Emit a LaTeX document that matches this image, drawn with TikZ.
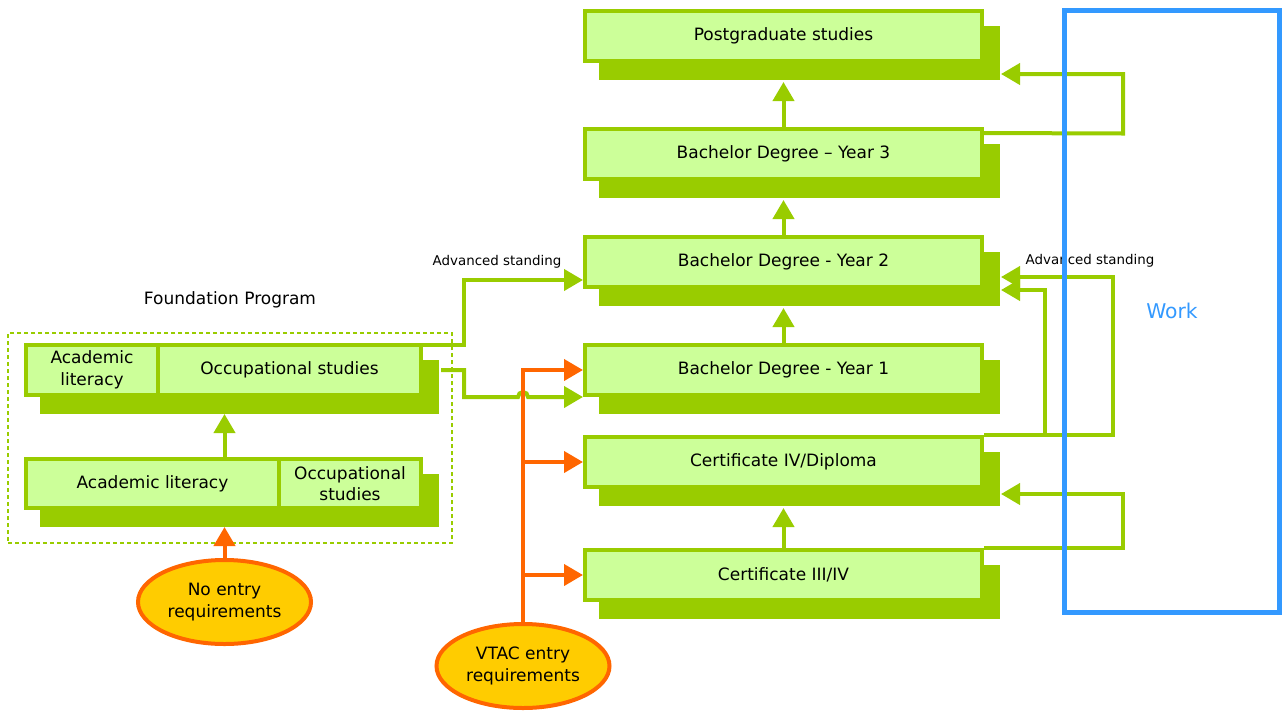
\documentclass[tikz,border=0pt]{standalone}
\usepackage{fontspec}
\setmainfont{DejaVu Sans}
\usetikzlibrary{arrows.meta,shapes.geometric,shadows}

\definecolor{leafGreen}{HTML}{99CC00}
\definecolor{paleGreen}{HTML}{CCFF99}
\definecolor{flameOrange}{HTML}{FF6600}
\definecolor{sunYellow}{HTML}{FFCC00}
\definecolor{workBlue}{HTML}{3399FF}

\begin{document}
\begin{tikzpicture}
[x=1pt,y=-1pt,
  font=\fontsize{17}{21.5}\selectfont,
  stageDecorate/.style={draw=leafGreen,fill=paleGreen,line width=4pt,%
    minimum width=397pt,minimum height=50pt,inner sep=0pt,align=center,%
    general shadow={fill=leafGreen,draw=leafGreen,line width=4pt,%
      shadow xshift=16pt,shadow yshift=-17pt}},
  cellDecorate/.style={stageDecorate,outer sep=0pt},
  entryDecorate/.style={ellipse,draw=flameOrange,fill=sunYellow,line width=4pt,%
    minimum width=173pt,minimum height=84pt,inner sep=0pt,align=center},
  frameDecorate/.style={draw=leafGreen,line width=2pt,dash pattern=on 4pt off 3pt,%
    minimum width=444pt,minimum height=210pt},
  workDecorate/.style={draw=workBlue,line width=5pt,text=workBlue,%
    minimum width=215pt,minimum height=602pt,font=\fontsize{20.3}{24}\selectfont},
  noteDecorate/.style={font=\fontsize{13.4}{16}\selectfont,inner sep=0pt},
  greenArrow/.style={draw=leafGreen,line width=4pt,-{Triangle[length=19pt,width=21pt]}},
  orangeArrow/.style={draw=flameOrange,line width=4pt,-{Triangle[length=19pt,width=21pt]}}]
\useasboundingbox (0,0) rectangle (1282,713);
%% foundation program
\node (found) at (230,438) [frameDecorate] {};
\node (foundLabel) at (230,300) {Foundation Program};
\node (ul) at (92,370) [cellDecorate,minimum width=132pt] {Academic\\literacy};
\node (ur) at (289.5,370) [cellDecorate,minimum width=263pt] {Occupational studies};
\node (ll) at (152.5,483.5) [cellDecorate,minimum width=253pt,minimum height=49pt] {Academic literacy};
\node (lr) at (350,483.5) [cellDecorate,minimum width=142pt,minimum height=49pt] {Occupational\\studies};
%% study stages
\foreach \nodename/\y/\boxtext in {
  pg/36/Postgraduate studies, y3/154/Bachelor Degree – Year 3,
  y2/262/Bachelor Degree - Year 2, y1/370/Bachelor Degree - Year 1,
  c4/462/{Certificate IV/Diploma}, c3/575/{Certificate III/IV}}
{
  \node (\nodename) at (783.5,\y) [stageDecorate] {\boxtext};
}
%% entry points
\node (noEntry) at (224.5,602) [entryDecorate] {No entry\\requirements};
\node (vtac) at (523,666) [entryDecorate] {VTAC entry\\requirements};
%% labels
\node (asLeft) at (497,262) [noteDecorate] {Advanced standing};
\node (asRight) at (1090,261) [noteDecorate] {Advanced standing};
%% pathways up the stages
\path
\foreach \startnode/\endnode in {c3/c4, y1/y2, y2/y3, y3/pg}
{
  (\startnode.north) edge[greenArrow] ([yshift=-19pt]\endnode.south)
};
\draw[greenArrow] (noEntry.north |- ll.north) -- ([yshift=-19pt]noEntry.north |- ul.south);
\draw[orangeArrow] (noEntry.north) -- ([yshift=-19pt]noEntry.north |- ll.south);
%% from foundation to degree
\draw[greenArrow] (ur.north east) -| (464,280) -- ([yshift=9pt]y2.south west);
\draw[greenArrow] ([xshift=20pt]ur.east) -| (464,397) -- (518,397)
  arc[start angle=180,end angle=0,radius=5pt] -- (y1.south west);
%% VTAC entry
\draw[orangeArrow] (vtac.north) |- (y1.west);
\draw[orangeArrow] (vtac.north |- c4.west) -- (c4.west);
\draw[orangeArrow] (vtac.north |- c3.west) -- (c3.west);
%% through work
\draw[greenArrow] ([yshift=-6pt]y3.north east) -- (1123,133.5) -- (1123,74)
  -- ([xshift=17pt,yshift=-38pt]pg.east);
\draw[greenArrow] (c4.north east) -- (1113,435) -- (1113,277)
  -- ([xshift=17pt,yshift=-15pt]y2.east);
\draw[greenArrow] (c4.north east) -- (1045,435) -- (1045,290)
  -- ([xshift=17pt,yshift=-28pt]y2.east);
\draw[greenArrow] (c3.north east) -- (1123,548) -- (1123,494)
  -- ([xshift=17pt,yshift=-32pt]c4.east);
\node (work) at (1172,311) [workDecorate] {Work};
\end{tikzpicture}
\end{document}
